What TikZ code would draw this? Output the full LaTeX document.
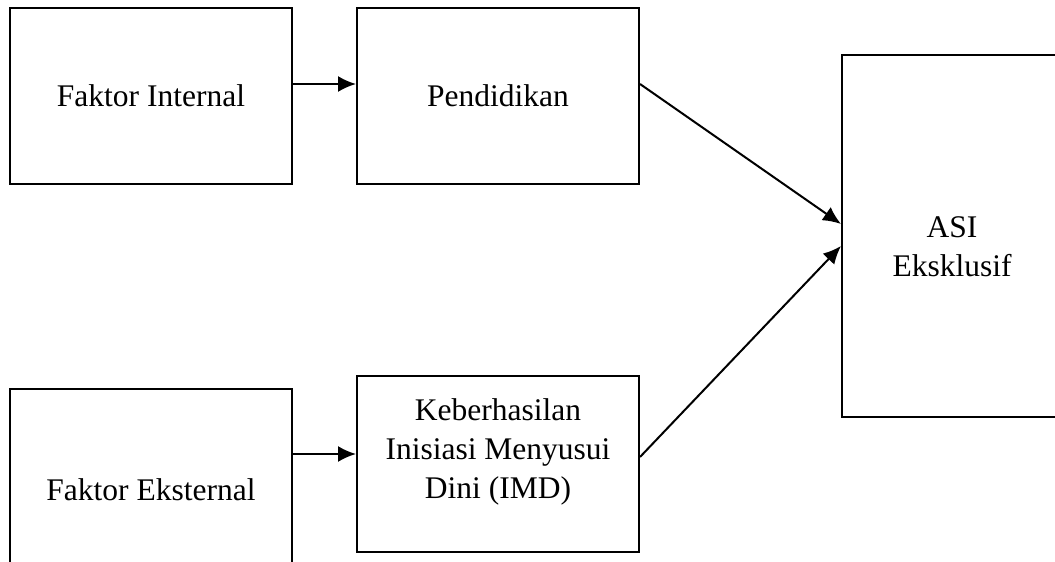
\documentclass[tikz,border=0pt]{standalone}
\usepackage{fontspec}
\setmainfont{Liberation Serif}
\usetikzlibrary{arrows.meta}
\tikzset{every node/.style={draw,line width=1pt,inner sep=0pt,align=center,font=\fontsize{15.75}{19.5}\selectfont}}
\tikzset{b/.style = {rectangle,minimum width=141pt,minimum height=88pt}}
\tikzset{tall/.style = {rectangle,minimum width=110pt,minimum height=181pt}}

\begin{document}
\begin{tikzpicture}[x=0.5pt,y=-0.5pt]
      \clip (0,0) rectangle (1055,562);
      \node[b] (fi) at (151,96) {Faktor Internal};
      \node[b] (pd) at (498,96) {Pendidikan};
      \node[b,minimum height=101pt] (fe) at (151,490) {Faktor Eksternal};
      \node[b,text depth=15pt] (imd) at (498,464) {Keberhasilan\\Inisiasi Menyusui\\Dini (IMD)};
      \node[tall,text height=41pt] (asi) at (952,236) {ASI\\Eksklusif};

 \foreach \a/\b/\s/\t in {fi/pd/6pt/6pt,fe/imd/18pt/5pt,pd/asi/6pt/6pt,imd/asi/3.5pt/-5pt}
   \draw[line width=1pt,-{Latex[length=9pt,width=8pt]}] ([yshift=\s]\a.east) -- ([yshift=\t]\b.west);

    \end{tikzpicture}
\end{document}
